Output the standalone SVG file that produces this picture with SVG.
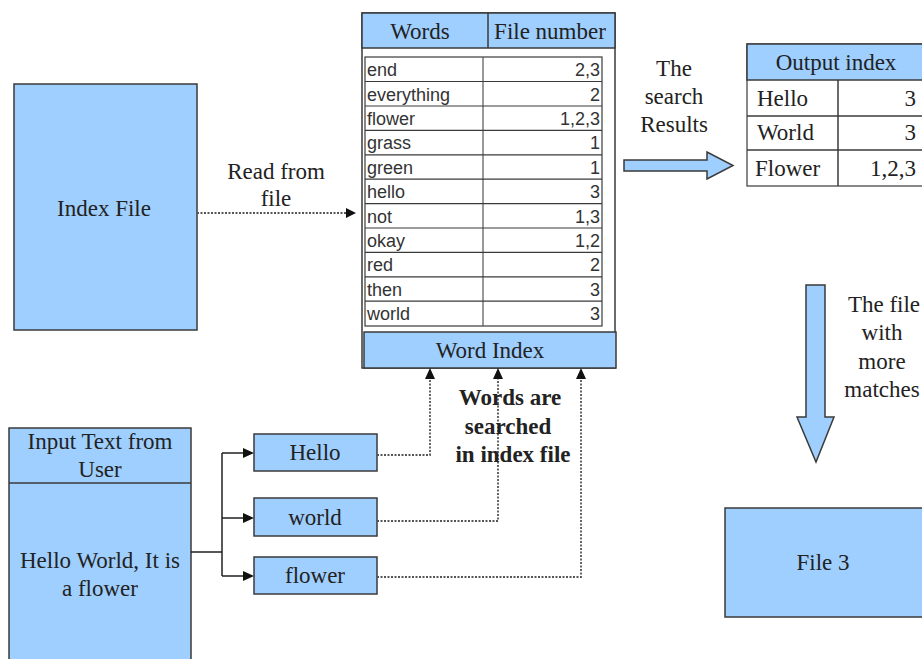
<svg xmlns="http://www.w3.org/2000/svg" width="922" height="659" viewBox="0 0 922 659">
<defs>
<style>
.box{fill:#9fcfff;stroke:#3a3a3a;stroke-width:1.5}
.cell{fill:#ffffff;stroke:#3a3a3a;stroke-width:1.2}
.ser{font-family:"Liberation Serif",serif;font-size:23px;fill:#222;text-anchor:middle}
.st{text-anchor:start}
.en{text-anchor:end}
.bold{font-weight:bold}
.sans{font-family:"Liberation Sans",sans-serif;font-size:18px;fill:#333}
.num{text-anchor:end}
.solid{fill:none;stroke:#222;stroke-width:1.5}
.dot{fill:none;stroke:#555;stroke-width:1.8;stroke-dasharray:2 1.5}
</style>
</defs>

<g id="index-file">
<rect class="box" x="14" y="84" width="183" height="246"/>
<text class="ser" x="104" y="216">Index File</text>
</g>

<g id="word-table">
<rect x="362" y="13" width="253" height="355" fill="#fff" stroke="#3a3a3a" stroke-width="1.5"/>
<rect class="box" x="362" y="13" width="253" height="35"/>
<line x1="488" y1="13" x2="488" y2="48" stroke="#3a3a3a" stroke-width="1.5"/>
<text class="ser" x="420" y="39">Words</text>
<text class="ser" x="550" y="39">File number</text>
<rect class="cell" x="365" y="57" width="237" height="269"/>
<line x1="483" y1="57" x2="483" y2="326" stroke="#555" stroke-width="1.2"/>
<g stroke="#3a3a3a" stroke-width="1.2">
<line x1="365" y1="81.5" x2="602" y2="81.5"/>
<line x1="365" y1="106" x2="602" y2="106"/>
<line x1="365" y1="130.4" x2="602" y2="130.4"/>
<line x1="365" y1="154.8" x2="602" y2="154.8"/>
<line x1="365" y1="179.2" x2="602" y2="179.2"/>
<line x1="365" y1="203.6" x2="602" y2="203.6"/>
<line x1="365" y1="228" x2="602" y2="228"/>
<line x1="365" y1="252.4" x2="602" y2="252.4"/>
<line x1="365" y1="276.8" x2="602" y2="276.8"/>
<line x1="365" y1="301.2" x2="602" y2="301.2"/>
</g>
<g class="sans">
<text x="367" y="76">end</text>
<text x="367" y="100.5">everything</text>
<text x="367" y="125">flower</text>
<text x="367" y="149">grass</text>
<text x="367" y="174">green</text>
<text x="367" y="198">hello</text>
<text x="367" y="223">not</text>
<text x="367" y="247">okay</text>
<text x="367" y="271">red</text>
<text x="367" y="296">then</text>
<text x="367" y="320">world</text>
</g>
<g class="sans num">
<text x="600" y="76">2,3</text>
<text x="600" y="100.5">2</text>
<text x="600" y="125">1,2,3</text>
<text x="600" y="149">1</text>
<text x="600" y="174">1</text>
<text x="600" y="198">3</text>
<text x="600" y="223">1,3</text>
<text x="600" y="247">1,2</text>
<text x="600" y="271">2</text>
<text x="600" y="296">3</text>
<text x="600" y="320">3</text>
</g>
<rect class="box" x="364" y="332" width="252" height="36"/>
<text class="ser" x="490" y="358">Word Index</text>
</g>

<g id="output-index">
<rect class="cell" x="747" y="44" width="180" height="142"/>
<rect class="box" x="747" y="44" width="180" height="36"/>
<line x1="838" y1="80" x2="838" y2="186" stroke="#3a3a3a" stroke-width="1.5"/>
<line x1="747" y1="116" x2="927" y2="116" stroke="#3a3a3a" stroke-width="1.5"/>
<line x1="747" y1="150" x2="927" y2="150" stroke="#3a3a3a" stroke-width="1.5"/>
<text class="ser" x="836" y="70">Output index</text>
<text class="ser st" x="757" y="106">Hello</text>
<text class="ser st" x="757" y="140">World</text>
<text class="ser st" x="755" y="176">Flower</text>
<text class="ser en" x="916" y="106">3</text>
<text class="ser en" x="916" y="140">3</text>
<text class="ser en" x="916" y="176">1,2,3</text>
</g>

<g id="input-text">
<rect class="box" x="9" y="428" width="182" height="240"/>
<line x1="9" y1="483" x2="191" y2="483" stroke="#3a3a3a" stroke-width="1.5"/>
<text class="ser" x="100" y="449">Input Text from</text>
<text class="ser" x="100" y="477">User</text>
<text class="ser" x="100" y="568">Hello World, It is</text>
<text class="ser" x="100" y="596">a flower</text>
</g>

<g id="hello">
<rect class="box" x="254" y="434" width="123" height="37"/>
<text class="ser" x="315" y="460">Hello</text>
</g>
<g id="world">
<rect class="box" x="254" y="498" width="123" height="38"/>
<text class="ser" x="315" y="525">world</text>
</g>
<g id="flower">
<rect class="box" x="254" y="557" width="123" height="37"/>
<text class="ser" x="315" y="583">flower</text>
</g>

<g id="file3">
<rect class="box" x="725" y="508" width="210" height="109"/>
<text class="ser" x="823" y="570">File 3</text>
</g>

<g id="connectors">
<path d="M197,213 H346" class="dot"/>
<path d="M346,208 L356,213 L346,218 z" fill="#111"/>
<path class="solid" d="M191,552 H222 M222,453 V576 M222,453 H244 M222,518 H244 M222,576 H244"/>
<path d="M243,448 L254,453 L243,458 z M243,513 L254,518 L243,523 z M243,571 L254,576 L243,581 z" fill="#111"/>
<path class="dot" d="M377,455 H430 V379"/>
<path class="dot" d="M377,521 H498 V379"/>
<path class="dot" d="M377,577 H581 V379"/>
<path d="M425,379 L430,368 L435,379 z M493,379 L498,368 L503,379 z M576,379 L581,368 L586,379 z" fill="#111"/>
<path class="box" d="M624,160 H707 V152 L733,165.5 L707,179 V171 H624 Z"/>
<path class="box" d="M806,285 H825 V417 H834 L816,462 L797,417 H806 Z"/>
</g>

<g id="labels">
<text class="ser" x="276" y="179">Read from</text>
<text class="ser" x="276" y="206">file</text>
<text class="ser" x="674" y="76">The</text>
<text class="ser" x="674" y="104">search</text>
<text class="ser" x="674" y="132">Results</text>
<text class="ser bold" x="510" y="405">Words are</text>
<text class="ser bold" x="508" y="434">searched</text>
<text class="ser bold" x="513" y="462">in index file</text>
<text class="ser" x="884" y="312">The file</text>
<text class="ser" x="882" y="340">with</text>
<text class="ser" x="882" y="369">more</text>
<text class="ser" x="882" y="397">matches</text>
</g>
</svg>
